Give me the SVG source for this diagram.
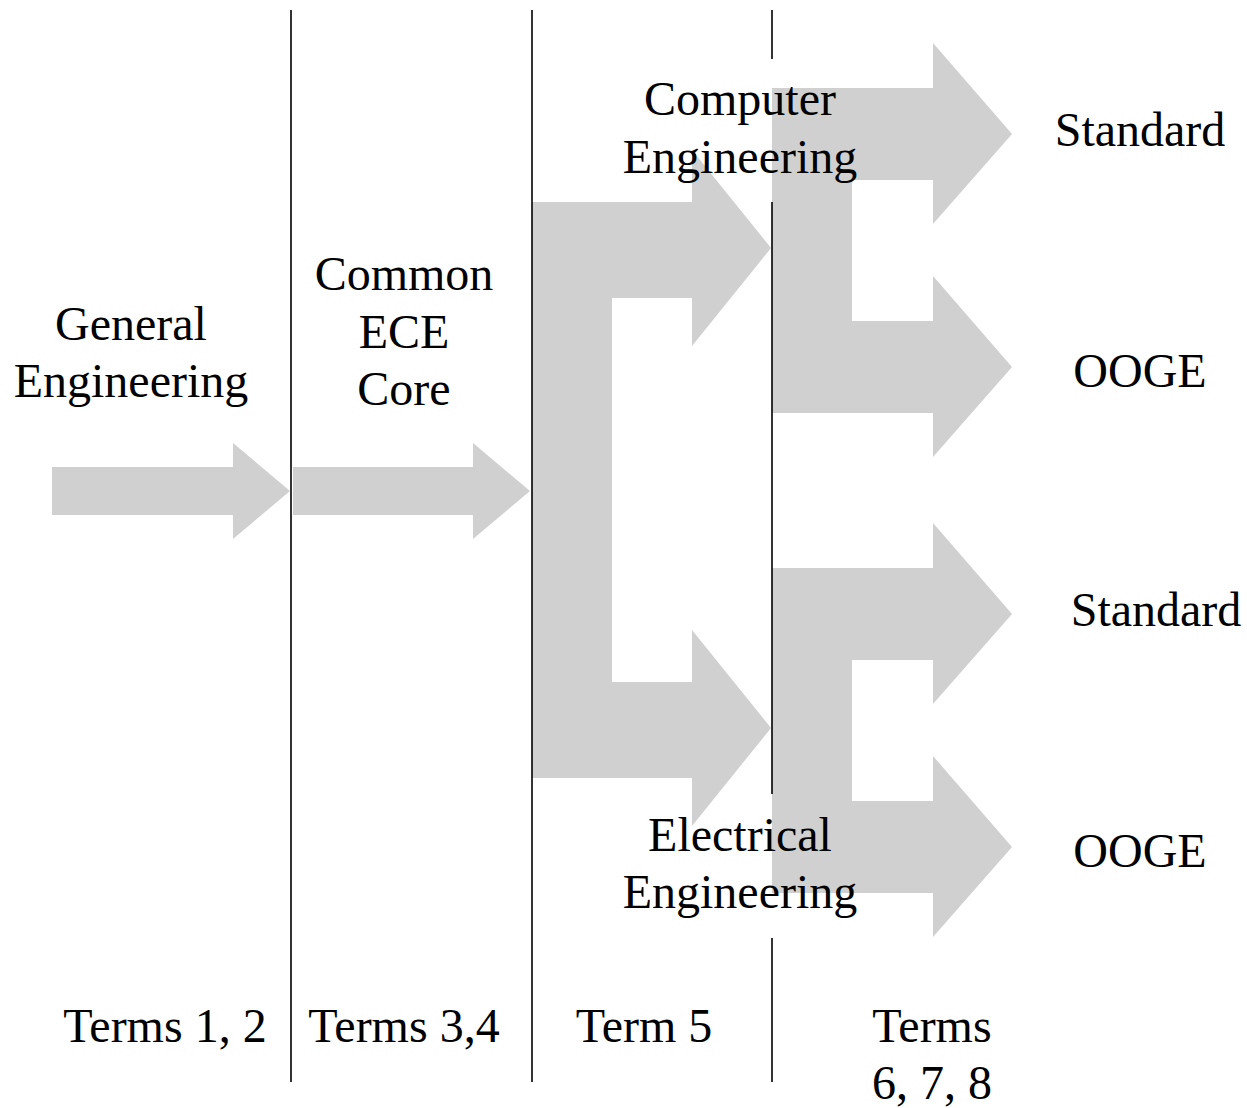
<svg xmlns="http://www.w3.org/2000/svg" width="1247" height="1108" viewBox="0 0 1247 1108">
<style>
.a{fill:#d0d0d0;stroke:none}
.l{stroke:#000;stroke-width:1.6;fill:none}
text{font-family:"Liberation Serif","Times New Roman",serif;font-size:48px;fill:#000;text-anchor:middle}
</style>
<rect width="1247" height="1108" fill="#fff"/>
<g id="connectors">
<polygon class="a" points="52,467 233,467 233,443 290,491 233,539 233,515 52,515"/>
<polygon class="a" points="293,467 473,467 473,443 530,491 473,539 473,515 293,515"/>
<polygon class="a" points="532,491 532,202 692,202 692,150 771,248 692,346 692,298 612,298 612,491"/>
<polygon class="a" points="532,491 612,491 612,682 692,682 692,630 771,728 692,826 692,778 532,778"/>
<polygon class="a" points="772,88 933,88 933,43 1012,134 933,224 933,180 852,180 852,321 933,321 933,276 1012,367 933,457 933,413 772,413"/>
<polygon class="a" points="772,568 933,568 933,523 1012,614 933,704 933,660 852,660 852,801 933,801 933,756 1012,847 933,937 933,893 772,893"/>
</g>
<g id="dividers">
<line class="l" x1="291" y1="10" x2="291" y2="1082"/>
<line class="l" x1="532" y1="10" x2="532" y2="1082"/>
<line class="l" x1="772" y1="10" x2="772" y2="59"/>
<line class="l" x1="772" y1="202" x2="772" y2="794"/>
<line class="l" x1="772" y1="938" x2="772" y2="1082"/>
</g>
<g id="general"><text x="131" y="340">General</text><text x="131" y="397">Engineering</text></g>
<g id="common"><text x="404" y="290">Common</text><text x="404" y="348">ECE</text><text x="404" y="405">Core</text></g>
<g id="computer"><text x="740" y="115">Computer</text><text x="740" y="173">Engineering</text></g>
<g id="electrical"><text x="740" y="851">Electrical</text><text x="740" y="908">Engineering</text></g>
<g id="ce-standard"><text x="1140" y="146">Standard</text></g>
<g id="ce-ooge"><text x="1140" y="387">OOGE</text></g>
<g id="ee-standard"><text x="1156" y="626">Standard</text></g>
<g id="ee-ooge"><text x="1140" y="867">OOGE</text></g>
<g id="terms12"><text x="165" y="1042">Terms 1, 2</text></g>
<g id="terms34"><text x="404" y="1042">Terms 3,4</text></g>
<g id="term5"><text x="644" y="1042">Term 5</text></g>
<g id="terms678"><text x="932" y="1042">Terms</text><text x="932" y="1099">6, 7, 8</text></g>
</svg>
